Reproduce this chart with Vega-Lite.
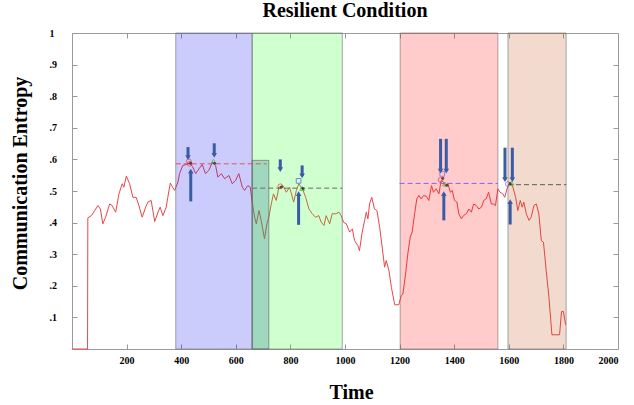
{
  "$schema": "https://vega.github.io/schema/vega-lite/v6.json",
  "width": 546,
  "height": 316,
  "autosize": {"type": "none"},
  "padding": {"left": 72, "top": 33, "right": 16, "bottom": 56},
  "background": "white",
  "title": {"text": "Resilient Condition", "font": "Liberation Serif", "fontSize": 20, "fontWeight": "bold", "color": "black", "offset": 7},
  "config": {
    "view": {"stroke": "#9a9a9a", "strokeWidth": 1},
    "axis": {"labelFont": "Liberation Serif", "labelFontWeight": "bold", "labelFontSize": 10, "labelColor": "black", "titleFont": "Liberation Serif", "titleFontWeight": "bold", "titleColor": "black", "titleFontSize": 20, "grid": false, "domain": false, "tickColor": "#999", "tickSize": -5}
  },
  "datasets": {
    "series": [
      {"t":0,"v":0},{"t":57,"v":0},{"t":58,"v":0.415},{"t":71,"v":0.422},{"t":83,"v":0.438},{"t":95,"v":0.454},{"t":104,"v":0.443},{"t":113,"v":0.396},{"t":123,"v":0.417},{"t":138,"v":0.459},{"t":147,"v":0.454},{"t":160,"v":0.433},{"t":172,"v":0.491},{"t":184,"v":0.523},{"t":190,"v":0.512},{"t":199,"v":0.547},{"t":211,"v":0.523},{"t":223,"v":0.48},{"t":235,"v":0.48},{"t":245,"v":0.454},{"t":257,"v":0.417},{"t":270,"v":0.449},{"t":278,"v":0.465},{"t":290,"v":0.47},{"t":303,"v":0.403},{"t":315,"v":0.433},{"t":323,"v":0.449},{"t":333,"v":0.422},{"t":345,"v":0.449},{"t":351,"v":0.48},{"t":360,"v":0.525},{"t":370,"v":0.51},{"t":376,"v":0.502},{"t":388,"v":0.528},{"t":394,"v":0.555},{"t":406,"v":0.581},{"t":419,"v":0.584},{"t":431,"v":0.588},{"t":441,"v":0.578},{"t":453,"v":0.555},{"t":465,"v":0.57},{"t":477,"v":0.584},{"t":489,"v":0.555},{"t":501,"v":0.565},{"t":514,"v":0.591},{"t":526,"v":0.581},{"t":534,"v":0.544},{"t":547,"v":0.555},{"t":559,"v":0.539},{"t":575,"v":0.549},{"t":587,"v":0.523},{"t":599,"v":0.533},{"t":611,"v":0.555},{"t":624,"v":0.512},{"t":632,"v":0.502},{"t":644,"v":0.517},{"t":653,"v":0.512},{"t":660,"v":0.465},{"t":669,"v":0.417},{"t":675,"v":0.396},{"t":685,"v":0.438},{"t":693,"v":0.407},{"t":705,"v":0.349},{"t":714,"v":0.396},{"t":721,"v":0.417},{"t":730,"v":0.459},{"t":738,"v":0.491},{"t":748,"v":0.47},{"t":758,"v":0.512},{"t":767,"v":0.514},{"t":773,"v":0.517},{"t":785,"v":0.496},{"t":797,"v":0.512},{"t":812,"v":0.465},{"t":822,"v":0.502},{"t":831,"v":0.523},{"t":844,"v":0.507},{"t":856,"v":0.48},{"t":868,"v":0.443},{"t":880,"v":0.428},{"t":892,"v":0.417},{"t":904,"v":0.422},{"t":913,"v":0.401},{"t":923,"v":0.391},{"t":931,"v":0.422},{"t":944,"v":0.396},{"t":953,"v":0.428},{"t":966,"v":0.428},{"t":978,"v":0.433},{"t":986,"v":0.422},{"t":995,"v":0.401},{"t":1005,"v":0.396},{"t":1017,"v":0.37},{"t":1027,"v":0.38},{"t":1035,"v":0.343},{"t":1047,"v":0.327},{"t":1053,"v":0.311},{"t":1063,"v":0.37},{"t":1072,"v":0.407},{"t":1078,"v":0.433},{"t":1084,"v":0.412},{"t":1090,"v":0.459},{"t":1098,"v":0.48},{"t":1108,"v":0.443},{"t":1117,"v":0.438},{"t":1127,"v":0.385},{"t":1137,"v":0.317},{"t":1145,"v":0.259},{"t":1151,"v":0.28},{"t":1161,"v":0.248},{"t":1170,"v":0.195},{"t":1182,"v":0.14},{"t":1197,"v":0.14},{"t":1206,"v":0.169},{"t":1212,"v":0.174},{"t":1222,"v":0.238},{"t":1230,"v":0.301},{"t":1239,"v":0.354},{"t":1246,"v":0.37},{"t":1255,"v":0.428},{"t":1263,"v":0.475},{"t":1271,"v":0.486},{"t":1279,"v":0.475},{"t":1288,"v":0.486},{"t":1298,"v":0.483},{"t":1307,"v":0.47},{"t":1317,"v":0.517},{"t":1324,"v":0.496},{"t":1334,"v":0.507},{"t":1344,"v":0.491},{"t":1352,"v":0.533},{"t":1361,"v":0.528},{"t":1368,"v":0.517},{"t":1377,"v":0.523},{"t":1386,"v":0.496},{"t":1393,"v":0.502},{"t":1401,"v":0.47},{"t":1410,"v":0.465},{"t":1417,"v":0.428},{"t":1426,"v":0.412},{"t":1434,"v":0.422},{"t":1444,"v":0.428},{"t":1454,"v":0.443},{"t":1463,"v":0.433},{"t":1471,"v":0.459},{"t":1481,"v":0.454},{"t":1490,"v":0.443},{"t":1500,"v":0.449},{"t":1508,"v":0.47},{"t":1517,"v":0.475},{"t":1526,"v":0.496},{"t":1536,"v":0.459},{"t":1544,"v":0.459},{"t":1551,"v":0.454},{"t":1560,"v":0.507},{"t":1568,"v":0.496},{"t":1578,"v":0.491},{"t":1585,"v":0.48},{"t":1597,"v":0.517},{"t":1607,"v":0.523},{"t":1615,"v":0.512},{"t":1625,"v":0.48},{"t":1633,"v":0.438},{"t":1642,"v":0.47},{"t":1649,"v":0.449},{"t":1655,"v":0.465},{"t":1664,"v":0.428},{"t":1674,"v":0.407},{"t":1682,"v":0.417},{"t":1692,"v":0.454},{"t":1701,"v":0.459},{"t":1710,"v":0.428},{"t":1719,"v":0.343},{"t":1727,"v":0.338},{"t":1737,"v":0.248},{"t":1747,"v":0.164},{"t":1758,"v":0.045},{"t":1786,"v":0.045},{"t":1793,"v":0.118},{"t":1800,"v":0.119},{"t":1808,"v":0.077}
    ],
    "regions": [
      {"name":"blue","x1":380,"x2":660,"y1":0,"y2":1},
      {"name":"green","x1":660,"x2":990,"y1":0,"y2":1},
      {"name":"red","x1":1202,"x2":1560,"y1":0,"y2":1},
      {"name":"tan","x1":1597,"x2":1810,"y1":0,"y2":1}
    ],
    "overlap": [{"x1":660,"x2":721,"y1":0,"y2":0.597}],
    "dashes": [
      {"line":"la","x1":380,"x2":712,"y":0.586},
      {"line":"lb","x1":660,"x2":990,"y":0.509},
      {"line":"lc","x1":1200,"x2":1560,"y":0.524},
      {"line":"ld","x1":1597,"x2":1810,"y":0.52}
    ],
    "markers": [
      {"kind":"circ","t":428,"v":0.594},{"kind":"circ","t":431,"v":0.586},{"kind":"tri","t":518,"v":0.594},
      {"kind":"circ","t":763,"v":0.515},{"kind":"sq","t":830,"v":0.532},{"kind":"tri","t":843,"v":0.508},
      {"kind":"psq","t":1356,"v":0.554},{"kind":"circ","t":1350,"v":0.535},{"kind":"tri","t":1366,"v":0.522},
      {"kind":"pcirc","t":1596,"v":0.522},{"kind":"tri","t":1610,"v":0.525}
    ],
    "dots": [
      {"t":434,"v":0.588},{"t":522,"v":0.588},{"t":767,"v":0.513},{"t":846,"v":0.508},{"t":1358,"v":0.540},{"t":1373,"v":0.518},{"t":1605,"v":0.524}
    ],
    "arrows": [
      {"t":425,"y0":0.639,"y1":0.606,"dir":"down"},
      {"t":521,"y0":0.651,"y1":0.613,"dir":"down"},
      {"t":763,"y0":0.600,"y1":0.568,"dir":"down"},
      {"t":843,"y0":0.581,"y1":0.548,"dir":"down"},
      {"t":1350,"y0":0.665,"y1":0.563,"dir":"down"},
      {"t":1371,"y0":0.665,"y1":0.563,"dir":"down"},
      {"t":1586,"y0":0.637,"y1":0.536,"dir":"down"},
      {"t":1613,"y0":0.637,"y1":0.536,"dir":"down"},
      {"t":435,"y0":0.467,"y1":0.563,"dir":"up"},
      {"t":830,"y0":0.393,"y1":0.492,"dir":"up"},
      {"t":1362,"y0":0.407,"y1":0.492,"dir":"up"},
      {"t":1605,"y0":0.394,"y1":0.466,"dir":"up"}
    ]
  },
  "layer": [
    {
      "data": {"name": "series"},
      "mark": {"type": "line", "color": "#ea4548", "strokeWidth": 1},
      "encoding": {
        "x": {"field": "t", "type": "quantitative", "scale": {"domain": [0, 2000], "nice": false},
              "axis": {"values": [200,400,600,800,1000,1200,1400,1600,1800,2000], "format": "d", "title": "Time", "titleX": 279, "titleY": 49, "titleBaseline": "alphabetic", "labelPadding": 11}},
        "y": {"field": "v", "type": "quantitative", "scale": {"domain": [0, 1], "nice": false},
              "axis": {"values": [0.1,0.2,0.3,0.4,0.5,0.6,0.7,0.8,0.9,1], "labelExpr": "datum.value == 1 ? '1' : replace(format(datum.value, '.1f'), '0.', '.')", "labelAlign": "left", "labelPadding": 28, "title": "Communication Entropy", "titleX": -42, "titleY": 150}}
      }
    },
    {
      "data": {"name": "regions"},
      "mark": {"type": "rect", "fillOpacity": 0.21, "stroke": "#6f6f6f", "strokeOpacity": 0.6, "strokeWidth": 1},
      "encoding": {
        "x": {"field": "x1", "type": "quantitative", "axis": {"orient": "top", "labels": false, "title": null, "values": [200,400,600,800,1000,1200,1400,1600,1800]}},
        "x2": {"field": "x2"},
        "y": {"field": "y1", "type": "quantitative", "axis": {"orient": "right", "labels": false, "title": null, "values": [0.1,0.2,0.3,0.4,0.5,0.6,0.7,0.8,0.9]}},
        "y2": {"field": "y2"},
        "fill": {"field": "name", "type": "nominal", "legend": null, "scale": {"domain": ["blue","green","red","tan"], "range": ["#1010f0","#20ff20","#ff0a0a","#c2521e"]}}
      }
    },
    {
      "data": {"name": "overlap"},
      "mark": {"type": "rect", "fill": "#2f7f96", "fillOpacity": 0.3, "stroke": "#5f5f5f", "strokeOpacity": 0.6, "strokeWidth": 1},
      "encoding": {
        "x": {"field": "x1", "type": "quantitative", "axis": null},
        "x2": {"field": "x2"},
        "y": {"field": "y1", "type": "quantitative", "axis": null},
        "y2": {"field": "y2"}
      }
    },
    {
      "data": {"name": "dashes"},
      "mark": {"type": "rule", "strokeDash": [5, 3], "strokeWidth": 1},
      "encoding": {
        "x": {"field": "x1", "type": "quantitative", "axis": null},
        "x2": {"field": "x2"},
        "y": {"field": "y", "type": "quantitative", "axis": null},
        "stroke": {"field": "line", "type": "nominal", "legend": null, "scale": {"domain": ["la","lb","lc","ld"], "range": ["#e0505a","#6a6a6a","#8a62e6","#5a5a5a"]}}
      }
    },
    {
      "data": {"name": "markers"},
      "mark": {"type": "point", "filled": false, "size": 22, "strokeWidth": 1},
      "encoding": {
        "x": {"field": "t", "type": "quantitative", "axis": null},
        "y": {"field": "v", "type": "quantitative", "axis": null},
        "shape": {"field": "kind", "type": "nominal", "legend": null, "scale": {"domain": ["circ","sq","tri","pcirc","psq"], "range": ["circle","square","triangle-up","circle","square"]}},
        "color": {"field": "kind", "type": "nominal", "legend": null, "scale": {"domain": ["circ","sq","tri","pcirc","psq"], "range": ["#e03c3c","#3a5ce0","#2fbf3a","#9a5ad8","#8a5ad8"]}}
      }
    },
    {
      "data": {"name": "dots"},
      "mark": {"type": "point", "filled": true, "size": 9, "color": "#222"},
      "encoding": {
        "x": {"field": "t", "type": "quantitative", "axis": null},
        "y": {"field": "v", "type": "quantitative", "axis": null}
      }
    },
    {
      "data": {"name": "arrows"},
      "mark": {"type": "rule", "color": "#3a5ca6", "strokeWidth": 3},
      "encoding": {
        "x": {"field": "t", "type": "quantitative", "axis": null},
        "y": {"field": "y0", "type": "quantitative", "axis": null},
        "y2": {"field": "y1"}
      }
    },
    {
      "data": {"name": "arrows"},
      "transform": [{"filter": "datum.dir == 'down'"}],
      "mark": {"type": "point", "filled": true, "size": 30, "color": "#3a5ca6", "opacity": 1, "shape": "triangle-down"},
      "encoding": {
        "x": {"field": "t", "type": "quantitative", "axis": null},
        "y": {"field": "y1", "type": "quantitative", "axis": null}
      }
    },
    {
      "data": {"name": "arrows"},
      "transform": [{"filter": "datum.dir == 'up'"}],
      "mark": {"type": "point", "filled": true, "size": 30, "color": "#3a5ca6", "opacity": 1, "shape": "triangle-up"},
      "encoding": {
        "x": {"field": "t", "type": "quantitative", "axis": null},
        "y": {"field": "y1", "type": "quantitative", "axis": null}
      }
    }
  ],
  "resolve": {"axis": {"x": "independent", "y": "independent"}}
}
